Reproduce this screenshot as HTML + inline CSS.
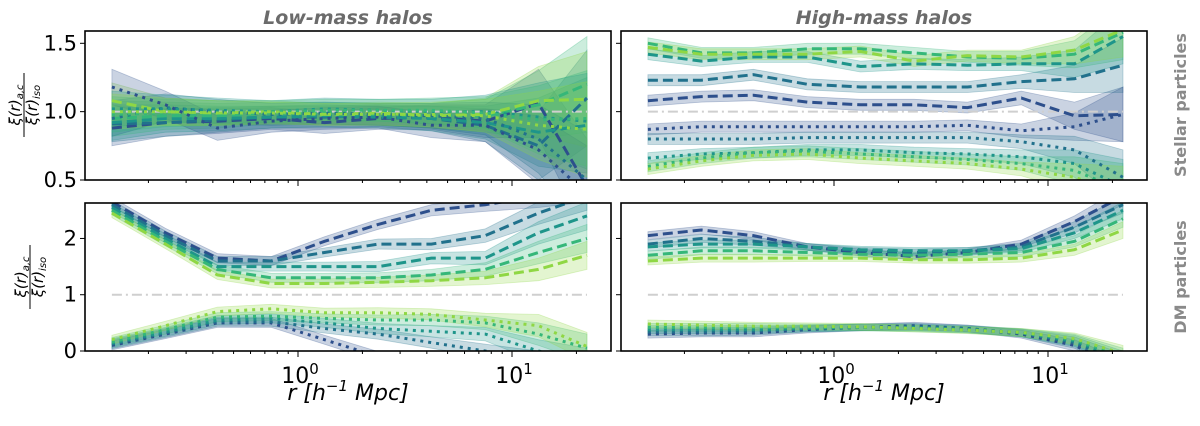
<!DOCTYPE html>
<html><head><meta charset="utf-8"><style>
body{margin:0;background:#fff;width:1200px;height:421px;overflow:hidden}
svg text{font-family:"DejaVu Sans","Liberation Sans",sans-serif}
</style></head><body>
<svg id="c" width="1200" height="421" xmlns="http://www.w3.org/2000/svg"></svg>
<script>
const radii=[0.135,0.24,0.42,0.75,1.33,2.37,4.2,7.5,13.3,22.4];
const colors=['#2d4f8c','#21718c','#1e958a','#35b779','#8fd744'];
// top-left: stellar, low-mass
const tlDash=[[0.88,0.92,0.93,0.95,0.92,0.95,0.96,0.93,1.06,0.45],[0.91,0.92,0.94,0.96,0.96,0.97,0.95,0.90,0.75,1.10],[0.92,0.95,0.95,0.96,0.97,0.96,0.95,0.92,0.85,0.90],[0.95,0.97,0.97,0.99,0.99,0.98,0.97,0.97,1.05,1.20],[1.08,1.00,0.99,1.00,0.98,0.99,0.97,0.98,1.08,1.09]];
const tlDot=[[1.18,1.05,0.88,0.93,0.95,0.96,0.90,0.90,0.72,0.40],[0.95,1.03,1.00,0.98,0.99,0.98,0.97,0.95,0.80,0.50],[1.02,1.02,1.01,1.00,1.02,1.01,1.00,1.00,0.96,0.93],[0.98,0.99,0.99,1.00,1.01,1.01,1.01,0.99,0.94,0.95],[1.00,1.00,0.99,0.99,0.98,0.98,0.98,0.97,0.90,0.87]];
const tlErr=[0.13,0.1,0.09,0.08,0.08,0.08,0.09,0.12,0.25,0.35];
// top-right: stellar, high-mass
const trDash=[[1.08,1.11,1.12,1.07,1.05,1.05,1.03,1.10,0.97,0.98],[1.23,1.23,1.27,1.20,1.18,1.18,1.18,1.22,1.24,1.34],[1.42,1.37,1.40,1.40,1.33,1.35,1.34,1.35,1.35,1.55],[1.50,1.43,1.43,1.46,1.46,1.43,1.40,1.39,1.42,1.58],[1.47,1.42,1.42,1.42,1.44,1.37,1.41,1.40,1.45,1.60]];
const trDot=[[0.87,0.89,0.89,0.89,0.89,0.89,0.90,0.86,0.89,0.98],[0.80,0.80,0.80,0.81,0.81,0.81,0.81,0.78,0.72,0.52],[0.66,0.69,0.70,0.72,0.72,0.70,0.69,0.67,0.62,0.45],[0.60,0.66,0.70,0.71,0.69,0.67,0.65,0.62,0.57,0.42],[0.58,0.64,0.68,0.69,0.66,0.64,0.62,0.58,0.52,0.40]];
const trErr=[0.04,0.04,0.04,0.04,0.04,0.04,0.04,0.05,0.1,0.2];
// bottom-left: DM, low-mass
const blDash=[[2.65,2.1,1.65,1.6,1.95,2.25,2.5,2.6,2.75,2.9],[2.6,2.05,1.6,1.6,1.75,1.9,1.9,2.05,2.45,2.75],[2.55,2.0,1.5,1.5,1.5,1.5,1.65,1.65,2.1,2.4],[2.5,1.95,1.45,1.3,1.3,1.3,1.35,1.45,1.75,2.0],[2.45,1.9,1.35,1.2,1.2,1.22,1.25,1.3,1.45,1.7]];
const blDot=[[0.1,0.3,0.5,0.5,0.2,-0.1,-0.3,-0.5,-0.7,-0.9],[0.12,0.32,0.52,0.52,0.4,0.3,0.15,0.0,-0.2,-0.4],[0.14,0.34,0.55,0.58,0.5,0.4,0.35,0.3,0.0,-0.2],[0.16,0.38,0.6,0.62,0.58,0.55,0.55,0.5,0.3,0.05],[0.2,0.45,0.7,0.75,0.68,0.68,0.65,0.55,0.45,0.08]];
const blErr=[0.08,0.08,0.08,0.08,0.08,0.09,0.1,0.12,0.2,0.25];
// bottom-right: DM, high-mass
const brDash=[[2.05,2.15,2.05,1.85,1.75,1.68,1.75,1.9,2.3,2.75],[1.9,2.0,1.95,1.85,1.78,1.75,1.78,1.85,2.2,2.6],[1.85,1.9,1.9,1.85,1.8,1.78,1.78,1.82,2.1,2.5],[1.7,1.78,1.78,1.75,1.72,1.7,1.72,1.75,1.95,2.35],[1.6,1.65,1.65,1.65,1.65,1.62,1.62,1.65,1.8,2.15]];
const brDot=[[0.3,0.32,0.32,0.38,0.42,0.45,0.4,0.3,0.1,-0.3],[0.34,0.34,0.35,0.4,0.42,0.43,0.4,0.32,0.15,-0.2],[0.38,0.38,0.38,0.4,0.42,0.42,0.38,0.32,0.18,-0.15],[0.42,0.42,0.42,0.42,0.42,0.4,0.38,0.33,0.2,-0.1],[0.48,0.46,0.44,0.44,0.43,0.4,0.37,0.33,0.22,-0.05]];
const brErr=[0.07,0.07,0.07,0.06,0.06,0.06,0.06,0.07,0.1,0.15];
const topTicks=[0.5,1.0,1.5], topTickLabels=['0.5','1.0','1.5'];
const botTicks=[0,1,2], botTickLabels=['0','1','2'];

const NS='http://www.w3.org/2000/svg', svg=document.getElementById('c');
function mk(tag,attrs,parent){const e=document.createElementNS(NS,tag);for(const k in attrs)e.setAttribute(k,attrs[k]);(parent||svg).appendChild(e);return e;}
const defs=mk('defs',{});
function panel(id,x0,x1,y0,y1,ymin,ymax,dash,dot,err,ticks,tickLabels,showLabels,showX){
  const g=mk('g',{});
  
  
  const cp=mk('clipPath',{id:'cp'+id},defs);mk('rect',{x:x0,y:y0,width:x1-x0,height:y1-y0},cp);
  const dec=214, x10=x0+213;
  const X=r=>x10+Math.log10(r)*dec;
  const Y=v=>y1-(v-ymin)/(ymax-ymin)*(y1-y0);
  const plot=mk('g',{'clip-path':'url(#cp'+id+')'},g);
  const all=[];dash.forEach((s,i)=>all.push([s,i,'dash']));dot.forEach((s,i)=>all.push([s,i,'dot']));
  all.forEach(([s,i])=>{
    let d='';radii.forEach((r,k)=>d+=(k?'L':'M')+X(r).toFixed(1)+','+Y(s[k]+err[k]).toFixed(1));
    for(let k=radii.length-1;k>=0;k--)d+='L'+X(radii[k]).toFixed(1)+','+Y(s[k]-err[k]).toFixed(1);
    const b=mk('path',{d:d+'Z',fill:colors[i],'fill-opacity':0.25,stroke:colors[i],'stroke-opacity':0.3,'stroke-width':0.8},plot);
    
    
  });
  const ref=mk('line',{x1:X(radii[0]),x2:X(radii[9]),y1:Y(1),y2:Y(1),stroke:'#cfcfcf','stroke-width':2,'stroke-dasharray':'10,4,2,4'},plot);
  
  
  all.forEach(([s,i,t])=>{
    let d='';radii.forEach((r,k)=>d+=(k?'L':'M')+X(r).toFixed(1)+','+Y(s[k]).toFixed(1));
    const l=mk('path',{d:d,fill:'none',stroke:colors[i],'stroke-width':3,'stroke-dasharray':t=='dash'?'10,5':'3,5'},plot);
    
    
  });
  const fr=mk('rect',{x:x0,y:y0,width:x1-x0,height:y1-y0,fill:'none',stroke:'#000','stroke-width':1.6},g);
  
  
  ticks.forEach((v,k)=>{
    mk('line',{x1:x0-5,x2:x0,y1:Y(v),y2:Y(v),stroke:'#000','stroke-width':1},g);
    if(showLabels){const t=mk('text',{x:x0-8,y:Y(v)+7,'text-anchor':'end','font-size':21},g);t.textContent=tickLabels[k];
      
      }
  });
  for(let e=-1;e<=1;e++)for(let m=1;m<10;m++){const xv=X(m*Math.pow(10,e));if(xv<x0||xv>x1)continue;
    mk('line',{x1:xv,x2:xv,y1:y1,y2:y1+(m==1?6:3),stroke:'#000','stroke-width':1},g);}
  if(showX){[0,1].forEach(e=>{const t=mk('text',{x:X(Math.pow(10,e))+2,y:y1+32,'text-anchor':'middle','font-size':22},g);
    t.textContent='10';const s=mk('tspan',{dy:-9,'font-size':15},t);s.textContent=String(e);
    
    });
    const xl=mk('text',{x:(x0+x1)/2,y:400,'text-anchor':'middle','font-size':22,'font-style':'italic'},g);
    xl.innerHTML='r [h<tspan dy="-9" font-size="15">−1</tspan><tspan dy="9"> Mpc]</tspan>';
    
    }
}
panel('stellar-low',85,611,31,180,0.5,1.59,tlDash,tlDot,tlErr,topTicks,topTickLabels,true,false);
panel('stellar-high',621,1147,31,180,0.5,1.59,trDash,trDot,trErr,topTicks,topTickLabels,false,false);
panel('dm-low',85,611,203,351,0,2.63,blDash,blDot,blErr,botTicks,botTickLabels,true,true);
panel('dm-high',621,1147,203,351,0,2.63,brDash,brDot,brErr,botTicks,botTickLabels,false,true);
</script>
<svg width="1200" height="421" style="position:absolute;left:0;top:0" xmlns="http://www.w3.org/2000/svg">
<g font-family="DejaVu Sans, Liberation Sans, sans-serif">
<text x="348" y="24" text-anchor="middle" font-size="19" font-weight="bold" font-style="italic" fill="#6b6b6b">Low-mass halos</text>
<text x="884" y="24" text-anchor="middle" font-size="19" font-weight="bold" font-style="italic" fill="#6b6b6b">High-mass halos</text>
<text transform="translate(1186,105) rotate(-90)" text-anchor="middle" font-size="16" font-weight="bold" fill="#8a8a8a">Stellar particles</text>
<text transform="translate(1186,277) rotate(-90)" text-anchor="middle" font-size="16" font-weight="bold" fill="#8a8a8a">DM particles</text>
<g transform="translate(24,105) rotate(-90)" font-style="italic" font-size="15">
<text x="0" y="-4" text-anchor="middle">ξ(r)<tspan font-size="10" dy="3">a,c</tspan></text>
<line x1="-32" x2="32" y1="0" y2="0" stroke="#000" stroke-width="1"/>
<text x="0" y="13" text-anchor="middle">ξ(r)<tspan font-size="10" dy="3">iso</tspan></text></g>
<g transform="translate(30,277) rotate(-90)" font-style="italic" font-size="15">
<text x="0" y="-4" text-anchor="middle">ξ(r)<tspan font-size="10" dy="3">a,c</tspan></text>
<line x1="-32" x2="32" y1="0" y2="0" stroke="#000" stroke-width="1"/>
<text x="0" y="13" text-anchor="middle">ξ(r)<tspan font-size="10" dy="3">iso</tspan></text></g>
</g></svg>
</body></html>
